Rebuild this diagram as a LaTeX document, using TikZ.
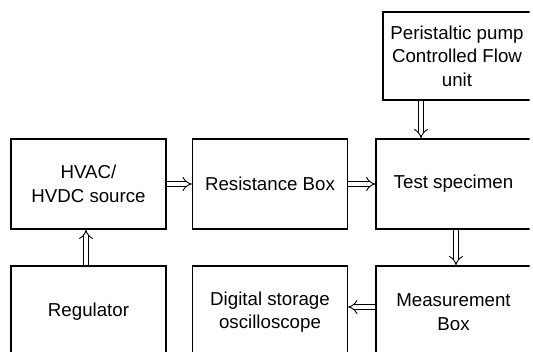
\documentclass[tikz,border=0pt]{standalone}
\usepackage{fontspec}
\setmainfont{Liberation Sans}
\usetikzlibrary{arrows.meta}

\tikzset{
    block/.style={draw, line width=1.3pt, minimum width=155pt, minimum height=90pt,
        align=center, inner sep=2pt, font=\fontsize{18.7}{23.5}\selectfont},
    flow/.style={double, double distance=4pt, line width=0.9pt, -{Implies[length=6pt,width=9pt]}}
}

\begin{document}
\begin{tikzpicture}[x=1pt, y=1pt]

\useasboundingbox (0,0) rectangle (533,352);
\clip (0,0) rectangle (529.5,352);

% Middle row
\node[block] (hv) at (88.5,168) {HVAC/\\HVDC source};
\node[block] (res) at (270,168) {Resistance Box};
\node[block] (test) at (453.5,168) {Test specimen};

% Top box
\node[block, minimum width=148pt, minimum height=88pt] (pump) at (457,296) {Peristaltic pump\\Controlled Flow\\unit};

% Bottom row
\node[block, minimum height=92pt] (reg) at (88.5,40) {Regulator};
\node[block, minimum height=92pt] (dso) at (270,40) {Digital storage\\oscilloscope};
\node[block, minimum height=92pt] (meas) at (453.5,40) {Measurement\\Box};

% Connections
\draw[flow] (hv.east) -- (res.west);
\draw[flow] (res.east) -- (test.west);
\draw[flow] ([xshift=-36pt]pump.south) -- ([xshift=-36pt]pump.south |- test.north);
\draw[flow] ([xshift=2.5pt]test.south) -- ([xshift=2.5pt]meas.north);
\draw[flow] ([yshift=5pt]meas.west) -- ([yshift=5pt]meas.west -| dso.east);
\draw[flow] ([xshift=-2.5pt]reg.north) -- ([xshift=-2.5pt]hv.south);

\end{tikzpicture}
\end{document}
